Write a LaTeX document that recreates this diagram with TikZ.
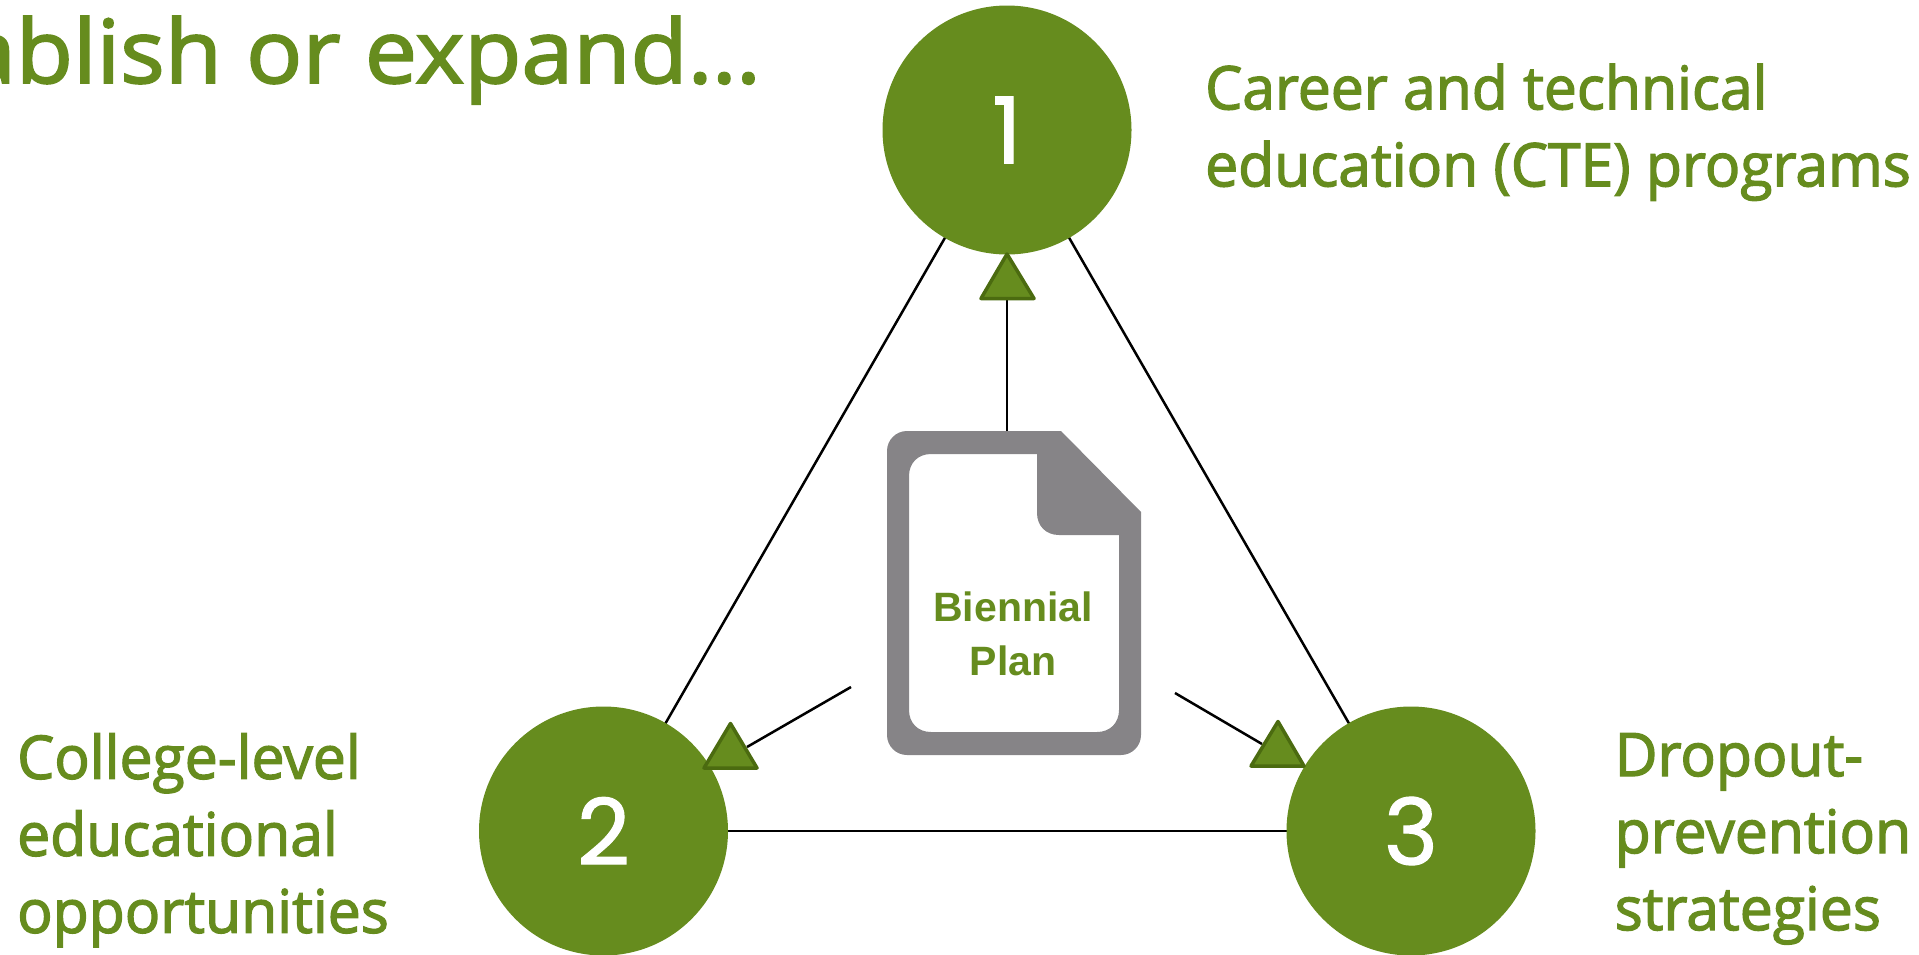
\documentclass[tikz,border=0pt]{standalone}
\usepackage{fontspec}
\setmainfont{Open Sans}[FakeBold=2.2,FakeStretch=0.98]
\newfontfamily\titlefont{Open Sans}[FakeBold=2.2,FakeStretch=1.06]
\newfontfamily\numfont{Poppins}[FakeBold=1.2]
\newfontfamily\planfont{Liberation Sans}
\definecolor{leaf}{HTML}{668C1E}
\definecolor{leafdark}{HTML}{4B6B10}
\definecolor{docgrey}{HTML}{868487}
\tikzset{
  x=1pt,y=-1pt,
  numcircle/.style={circle,fill=leaf,minimum size=249pt,inner sep=0pt,text=white,font=\fontsize{92}{100}\selectfont\numfont},
  label/.style={text=leaf,align=left,inner sep=0pt,anchor=north west,font=\fontsize{60}{77}\selectfont},
  link/.style={draw=black,line width=2.5pt},
  head/.style={fill=leaf,draw=leafdark,line width=3.5pt,line join=round},
}
\begin{document}
\begin{tikzpicture}
\useasboundingbox (0,0) rectangle (1919,954);
\clip (0,0) rectangle (1919,954);
% triangle sides, hidden under the circles
\coordinate (k1) at (1007,130);
\coordinate (k2) at (603.5,831);
\coordinate (k3) at (1411,831);
\draw[link] (k1) -- (k2);
\draw[link] (k1) -- (k3);
\draw[link] (k2) -- (k3);
\node[numcircle] (c1) at (k1) {\raisebox{-3pt}{1}};
\node[numcircle] (c2) at (k2) {\raisebox{-3pt}{2}};
\node[numcircle] (c3) at (k3) {\raisebox{-3pt}{3}};
% document icon
\fill[docgrey,even odd rule]
  (907,431) -- (1061,431) -- (1141,512) -- (1141,735) arc[start angle=0,end angle=90,radius=20] -- (907,755) arc[start angle=90,end angle=180,radius=20] -- (887,451) arc[start angle=180,end angle=270,radius=20] -- cycle
  (931,454) -- (1037,454) -- (1037,513) .. controls (1037,526) and (1046,535) .. (1059,535) -- (1119,535) -- (1119,710) .. controls (1119,723) and (1110,732) .. (1097,732) -- (931,732) .. controls (918,732) and (909,723) .. (909,710) -- (909,476) .. controls (909,463) and (918,454) .. (931,454) -- cycle;
\node[text=leaf,align=center,inner sep=0pt,font=\fontsize{41}{54}\selectfont\planfont\bfseries] (plan) at (1013,634) {Biennial\\Plan};
% arrows
\coordinate (a1s) at (1007,431); \coordinate (a1e) at (1007,300);
\coordinate (a2s) at (851,687); \coordinate (a2e) at (747,747);
\coordinate (a3s) at (1175,693); \coordinate (a3e) at (1262,744);
\draw[link] (a1s) -- (a1e);
\draw[link] (a2s) -- (a2e);
\draw[link] (a3s) -- (a3e);
\draw[head] (1007,254) -- (1034,298.5) -- (981,298.5) -- cycle;
\draw[head] (730.5,723.5) -- (757,768) -- (704,768) -- cycle;
\draw[head] (1278,721.5) -- (1304,766) -- (1251,766) -- cycle;
% text
\node[text=leaf,anchor=base east,inner sep=0pt,font=\fontsize{88}{100}\selectfont\titlefont] (title) at (761,83) {Establish or expand…};
\node[label] (t1) at (1205,63.5) {Career and technical\\education (CTE) programs};
\node[label] (t2) at (17,733) {College-level\\educational\\opportunities};
\node[label] (t3) at (1614.5,733) {Dropout-\\prevention\\strategies};
\end{tikzpicture}
\end{document}
